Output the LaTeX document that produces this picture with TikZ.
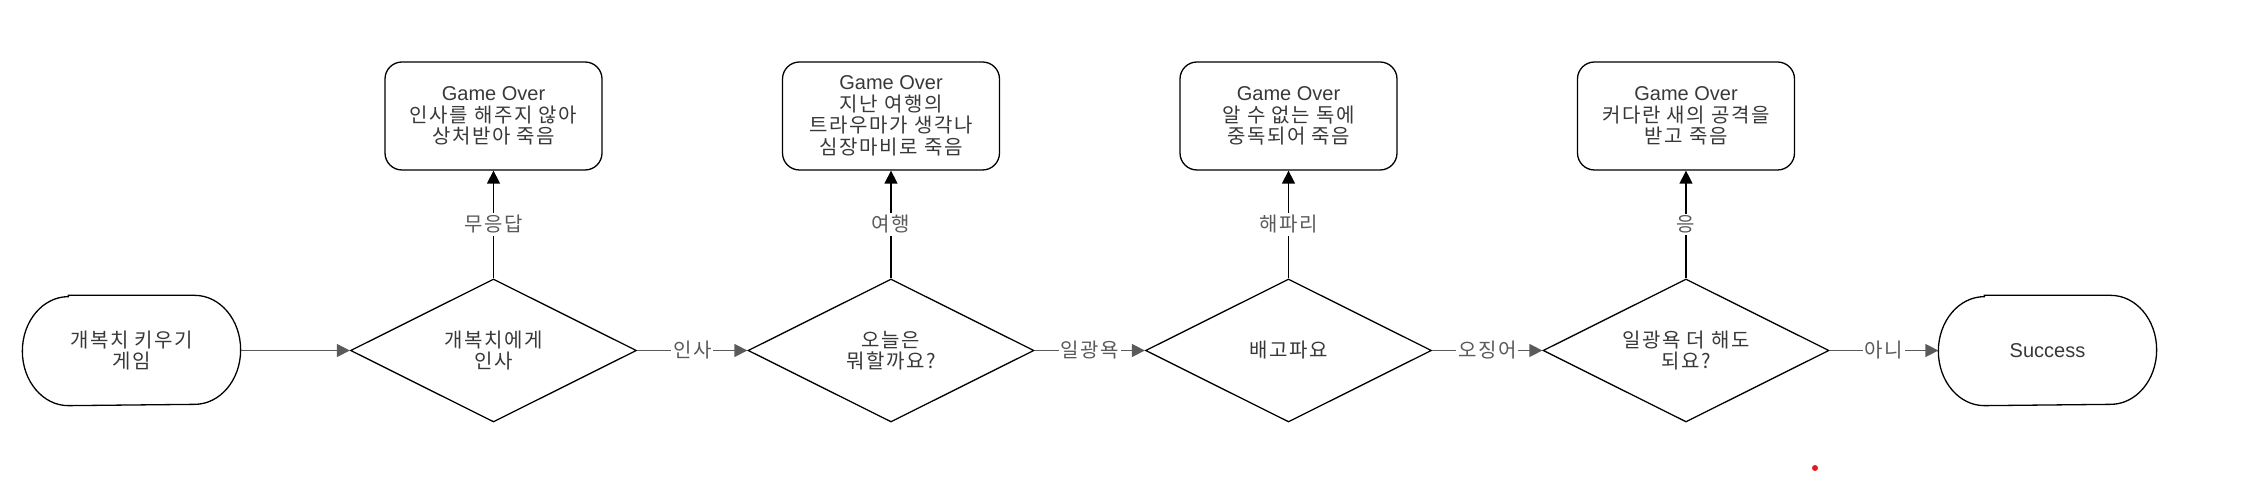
\documentclass[tikz,border=0pt]{standalone}
\usepackage{fontspec}
\setmainfont{Noto Sans CJK KR}[LetterSpace=8]
\newfontfamily\lat{Liberation Sans}
\usetikzlibrary{shapes.geometric,arrows.meta}
\definecolor{txt}{HTML}{383838}
\definecolor{edgegray}{HTML}{5A5A5A}
\definecolor{dotred}{HTML}{E31B1B}
\tikzset{
  base/.style={font=\fontsize{20}{21.5}\selectfont, text=txt, align=center, line width=1.3pt},
  term/.style={base, rectangle, minimum width=217pt, minimum height=109pt, inner sep=0pt},
  decision/.style={base, diamond, draw=black, aspect=2, minimum width=286pt, minimum height=143pt, inner sep=0pt},
  over/.style={base, rectangle, draw=black, rounded corners=17pt, minimum width=217pt, minimum height=108pt, inner sep=0pt},
  harrow/.style={draw=edgegray, line width=1.5pt, -{Triangle[length=13pt,width=13pt]}},
  varrow/.style={draw=black, line width=1.3pt, -{Triangle[length=13pt,width=13pt]}},
  elabel/.style={font=\fontsize{20}{21.5}\selectfont, text=edgegray, fill=white, inner sep=2pt},
  outline/.style={draw=black, line width=1.3pt},
}
\begin{document}
\begin{tikzpicture}[x=1pt,y=1pt]
\useasboundingbox (0,0) rectangle (2244,484);
% start terminator
\node[term] (start) at (131.5,133.5) {개복치 키우기\\게임};
\draw[outline] ([xshift=46pt]start.north west) -- ([xshift=-46pt]start.north east)
  arc[start angle=90,end angle=-90,x radius=46pt,y radius=54.5pt]
  -- ([xshift=46pt]start.south west)
  arc[start angle=270,end angle=90,x radius=46pt,y radius=54.5pt] -- cycle;
% decisions
\node[decision] (d1) at (493.5,133.5) {개복치에게\\인사};
\node[decision] (d2) at (891,133.5) {오늘은\\뭐할까요?};
\node[decision] (d3) at (1288.5,133.5) {배고파요};
\node[decision] (d4) at (1686,133.5) {일광욕 더 해도\\되요?};
% game over boxes
\node[over] (g1) at (493.5,368) {{\lat Game Over}\\인사를 해주지 않아\\상처받아 죽음};
\node[over] (g2) at (891,368) {{\lat Game Over}\\지난 여행의\\트라우마가 생각나\\심장마비로 죽음};
\node[over] (g3) at (1288.5,368) {{\lat Game Over}\\알 수 없는 독에\\중독되어 죽음};
\node[over] (g4) at (1686,368) {{\lat Game Over}\\커다란 새의 공격을\\받고 죽음};
% success terminator
\node[term] (succ) at (2047.5,133.5) {{\lat Success}};
\draw[outline] ([xshift=46pt]succ.north west) -- ([xshift=-46pt]succ.north east)
  arc[start angle=90,end angle=-90,x radius=46pt,y radius=54.5pt]
  -- ([xshift=46pt]succ.south west)
  arc[start angle=270,end angle=90,x radius=46pt,y radius=54.5pt] -- cycle;
% horizontal connectors
\draw[harrow] (start) -- (d1);
\draw[harrow] (d1) -- node[elabel] {인사} (d2);
\draw[harrow] (d2) -- node[elabel] {일광욕} (d3);
\draw[harrow] (d3) -- node[elabel] {오징어} (d4);
\draw[harrow] (d4) -- node[elabel] {아니} (succ);
% vertical connectors
\draw[varrow] (d1) -- node[elabel] {무응답} (g1);
\draw[varrow] (d2) -- node[elabel] {여행} (g2);
\draw[varrow] (d3) -- node[elabel] {해파리} (g3);
\draw[varrow] (d4) -- node[elabel] {응} (g4);
% stray red dot
\fill[dotred] (1815,16) circle[radius=3];
\end{tikzpicture}
\end{document}
